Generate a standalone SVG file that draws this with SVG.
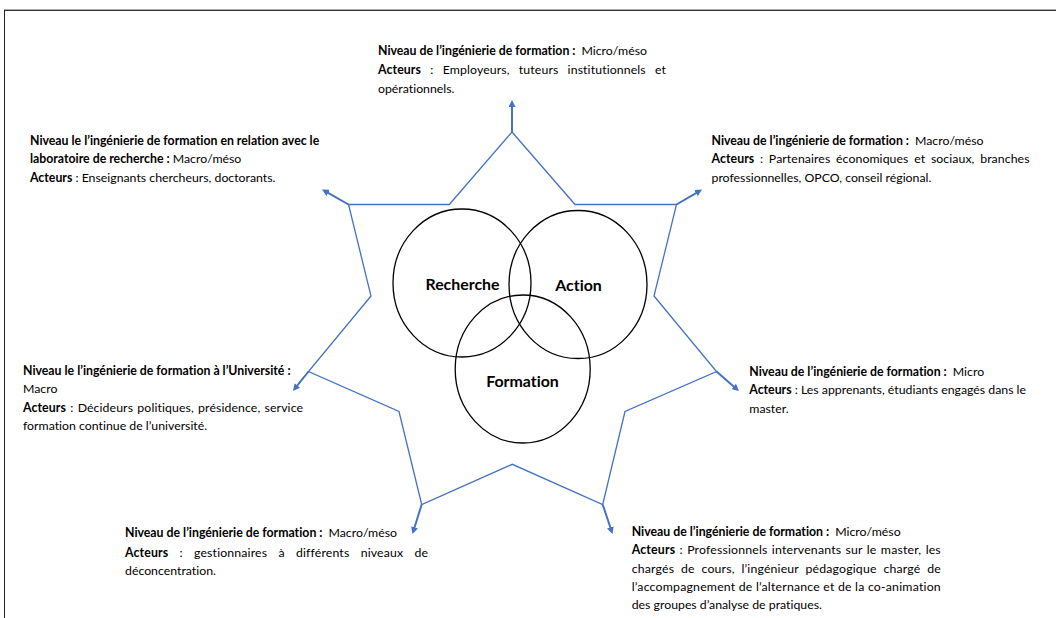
<svg xmlns="http://www.w3.org/2000/svg" width="1056" height="618" viewBox="0 0 1056 618">
<style>
.t{font-family:Lato,"Liberation Sans",sans-serif;font-size:12.3px;fill:#000;font-variant-ligatures:none;}
.b{font-weight:bold;}
.lbl{font-family:Lato,"Liberation Sans",sans-serif;font-size:15.9px;font-weight:bold;fill:#000;text-anchor:middle;font-variant-ligatures:none;}
.star{fill:none;stroke:#4472C4;stroke-width:1.3;stroke-linejoin:miter;}
.arr{fill:none;stroke:#4472C4;stroke-width:2;marker-end:url(#ah);}
.circ{fill:none;stroke:#000;stroke-width:1.3;}
</style>
<defs>
<marker id="ah" markerUnits="userSpaceOnUse" markerWidth="7" markerHeight="7" refX="1.5" refY="3.5" orient="auto">
<path d="M0,0 L7,3.5 L0,7 z" fill="#4472C4"/>
</marker>
</defs>
<rect width="1056" height="618" fill="#fff"/>
<g id="frame">
<line x1="4" y1="9.5" x2="1056" y2="9.5" stroke="#aaa" stroke-width="1"/>
<line x1="4" y1="10.5" x2="1056" y2="10.5" stroke="#333" stroke-width="1"/>
<line x1="4.5" y1="10" x2="4.5" y2="618" stroke="#222" stroke-width="1"/>
</g>
<g id="star">
<polygon class="star" points="512,132 575,204.5 676.5,204.5 654,296 716.5,371.5 625,411.5 602.7,504.5 512.3,464.3 421.7,504.5 399,411.5 308.5,371.5 371,296 348.5,204.5 449.3,204.5"/>
</g>
<g id="connectors">
<line class="arr" x1="512" y1="132" x2="512" y2="105.5"/>
<line class="arr" x1="348.5" y1="204.5" x2="326.8" y2="192.2"/>
<line class="arr" x1="676.5" y1="204.5" x2="697.3" y2="192.3"/>
<line class="arr" x1="308.5" y1="371.5" x2="296.4" y2="386.7"/>
<line class="arr" x1="716.5" y1="371.5" x2="734.8" y2="387.4"/>
<line class="arr" x1="421.7" y1="504.5" x2="414.1" y2="528.8"/>
<line class="arr" x1="602.7" y1="504.5" x2="610.8" y2="528.8"/>
</g>
<g id="recherche">
<ellipse class="circ" cx="462" cy="283" rx="69" ry="74"/>
<text class="lbl" x="462.5" y="290">Recherche</text>
</g>
<g id="action">
<ellipse class="circ" cx="578" cy="284.5" rx="69" ry="74"/>
<text class="lbl" x="578.5" y="290.5">Action</text>
</g>
<g id="formation">
<ellipse class="circ" cx="522.7" cy="369" rx="67.5" ry="74"/>
<text class="lbl" x="522.5" y="387">Formation</text>
</g>
<g id="text-top">
<text class="t" x="378" y="55"><tspan class="b">Niveau de l’ingénierie de formation :</tspan><tspan dx="6">Micro/méso</tspan></text>
<text class="t" x="378" y="74" style="word-spacing:6px" textLength="288" lengthAdjust="spacing"><tspan class="b">Acteurs</tspan> : Employeurs, tuteurs institutionnels et</text>
<text class="t" x="378" y="92.5">opérationnels.</text>
</g>
<g id="text-upper-left">
<text class="t b" x="30" y="145">Niveau le l’ingénierie de formation en relation avec le</text>
<text class="t" x="30" y="163.3"><tspan class="b">laboratoire de recherche :</tspan> Macro/méso</text>
<text class="t" x="30" y="181.7"><tspan class="b">Acteurs</tspan> : Enseignants chercheurs, doctorants.</text>
</g>
<g id="text-upper-right">
<text class="t" x="711.5" y="145"><tspan class="b">Niveau de l’ingénierie de formation :</tspan><tspan dx="6">Macro/méso</tspan></text>
<text class="t" x="711.5" y="163.3" style="word-spacing:2.5px" textLength="318" lengthAdjust="spacing"><tspan class="b">Acteurs</tspan> : Partenaires économiques et sociaux, branches</text>
<text class="t" x="711.5" y="181.7">professionnelles, OPCO, conseil régional.</text>
</g>
<g id="text-left">
<text class="t b" x="23" y="375">Niveau le l’ingénierie de formation à l’Université :</text>
<text class="t" x="23" y="393.3">Macro</text>
<text class="t" x="23" y="411.7" style="word-spacing:1px" textLength="280" lengthAdjust="spacing"><tspan class="b">Acteurs</tspan> : Décideurs politiques, présidence, service</text>
<text class="t" x="23" y="429.5">formation continue de l’université.</text>
</g>
<g id="text-right">
<text class="t" x="749.3" y="376"><tspan class="b">Niveau de l’ingénierie de formation :</tspan><tspan dx="6">Micro</tspan></text>
<text class="t" x="749.3" y="394.3"><tspan class="b">Acteurs</tspan> : Les apprenants, étudiants engagés dans le</text>
<text class="t" x="749.3" y="412.7">master.</text>
</g>
<g id="text-lower-left">
<text class="t" x="125" y="537.3"><tspan class="b">Niveau de l’ingénierie de formation :</tspan><tspan dx="6">Macro/méso</tspan></text>
<text class="t" x="125" y="556.5" style="word-spacing:8px" textLength="303" lengthAdjust="spacing"><tspan class="b">Acteurs</tspan> : gestionnaires à différents niveaux de</text>
<text class="t" x="125" y="575">déconcentration.</text>
</g>
<g id="text-lower-right">
<text class="t" x="631.7" y="536"><tspan class="b">Niveau de l’ingénierie de formation :</tspan><tspan dx="6">Micro/méso</tspan></text>
<text class="t" x="631.7" y="554.3" style="word-spacing:1px" textLength="309" lengthAdjust="spacing"><tspan class="b">Acteurs</tspan> : Professionnels intervenants sur le master, les</text>
<text class="t" x="631.7" y="572.7" style="word-spacing:3.5px" textLength="309" lengthAdjust="spacing">chargés de cours, l’ingénieur pédagogique chargé de</text>
<text class="t" x="631.7" y="591" textLength="309" lengthAdjust="spacing">l’accompagnement de l’alternance et de la co-animation</text>
<text class="t" x="631.7" y="609">des groupes d’analyse de pratiques.</text>
</g>
</svg>
